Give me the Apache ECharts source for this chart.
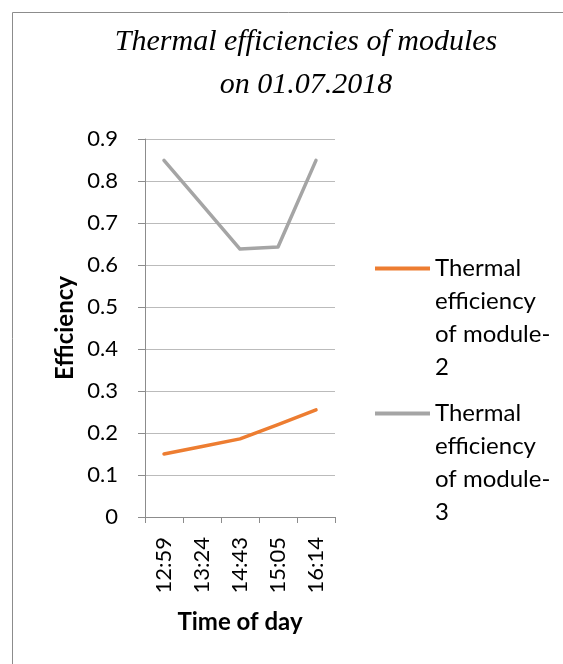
<!DOCTYPE html>
<html>
<head>
<meta charset="utf-8">
<script src="https://cdn.jsdelivr.net/npm/echarts@6/dist/echarts.min.js"></script>
<style>
  html, body { margin: 0; padding: 0; background: #fff; }
  #chart { width: 563px; height: 664px; }
</style>
</head>
<body>
<div id="chart"></div>
<script>
const times = ['12:59', '13:24', '14:43', '15:05', '16:14']
const module2 = [0.150, 0.168, 0.186, 0.220, 0.255]
const module3 = [0.849, 0.744, 0.638, 0.643, 0.849]
const seriesNames = ['Thermal efficiency of module-2', 'Thermal efficiency of module-3']
const legendLabels = ['Thermal\nefficiency\nof module-\n2', 'Thermal\nefficiency\nof module-\n3']

const font = 'Lato'
const chart = echarts.init(document.getElementById('chart'), null, { renderer: 'canvas' })

const options = {
  backgroundColor: '#fff',
  animation: false,
  graphic: [
    {
      type: 'rect',
      shape: { x: 12.5, y: 12.5, width: 600, height: 700 },
      style: { fill: 'none', stroke: '#8c8c8c', lineWidth: 1 },
      silent: true,
    },
  ],
  title: {
    text: 'Thermal efficiencies of modules\non 01.07.2018',
    left: 306,
    top: 21,
    padding: 0,
    textAlign: 'center',
    textStyle: {
      fontFamily: 'Liberation Serif',
      fontStyle: 'italic',
      fontWeight: 'normal',
      fontSize: 30,
      lineHeight: 43,
      color: '#000',
    },
  },
  legend: {
    orient: 'vertical',
    left: 370,
    top: 148,
    padding: 5,
    icon: 'rect',
    itemWidth: 55,
    itemHeight: 4,
    itemGap: -86,
    data: seriesNames,
    // blank lines above keep the icon level with the first text line
    formatter: name => '\n\n\n' + legendLabels[seriesNames.indexOf(name)],
    textStyle: {
      fontFamily: font,
      fontSize: 24,
      lineHeight: 33,
      color: '#000',
    },
  },
  grid: {
    left: 145,
    right: 228,
    top: 139,
    bottom: 147,
    containLabel: false,
  },
  xAxis: {
    type: 'category',
    data: times,
    boundaryGap: true,
    name: 'Time of day',
    nameLocation: 'middle',
    nameGap: 93,
    nameTextStyle: { fontFamily: font, fontWeight: 'bold', fontSize: 24, color: '#000' },
    axisLine: { lineStyle: { color: '#8c8c8c', width: 1 } },
    axisTick: { show: true, length: 6, lineStyle: { color: '#8c8c8c' } },
    axisLabel: {
      rotate: 90,
      margin: 20,
      fontFamily: font,
      fontSize: 22,
      color: '#000',
    },
    splitLine: { show: false },
  },
  yAxis: {
    type: 'value',
    min: 0,
    max: 0.9,
    interval: 0.1,
    name: 'Efficiency',
    nameLocation: 'middle',
    nameGap: 68,
    nameTextStyle: { fontFamily: font, fontWeight: 'bold', fontSize: 24, color: '#000' },
    axisLine: { show: true, lineStyle: { color: '#8c8c8c', width: 1 } },
    axisTick: { show: true, length: 7, lineStyle: { color: '#8c8c8c' } },
    axisLabel: {
      margin: 27,
      fontFamily: font,
      fontSize: 22,
      color: '#000',
      formatter: v => String(parseFloat(v.toFixed(1))),
    },
    splitLine: { show: true, lineStyle: { color: '#bbbbbb', width: 1 } },
  },
  series: [
    {
      name: seriesNames[0],
      type: 'line',
      data: module2,
      showSymbol: false,
      symbol: 'none',
      lineStyle: { color: '#ED7D31', width: 3.5, cap: 'round', join: 'round' },
      itemStyle: { color: '#ED7D31' },
    },
    {
      name: seriesNames[1],
      type: 'line',
      data: module3,
      showSymbol: false,
      symbol: 'none',
      lineStyle: { color: '#A5A5A5', width: 3.5, cap: 'round', join: 'round' },
      itemStyle: { color: '#A5A5A5' },
    },
  ],
}
chart.setOption(options)
</script>
</body>
</html>
